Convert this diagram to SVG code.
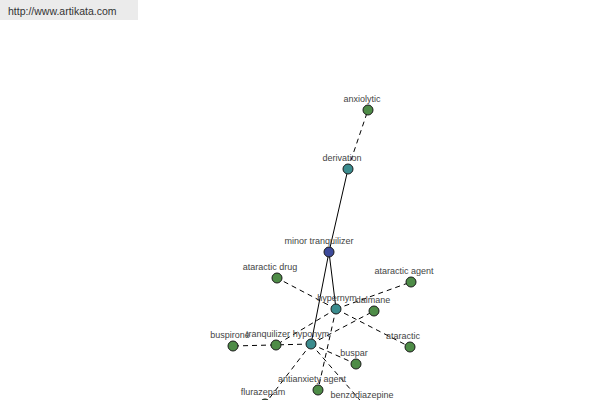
<svg xmlns="http://www.w3.org/2000/svg" width="600" height="400" viewBox="0 0 600 400">
<style>
.e{stroke:#000;stroke-width:1;fill:none}
.d{stroke-dasharray:5,4}
.n circle{stroke:#1a1a1a;stroke-width:1}
.w circle{fill:#4e8c47}
.r circle{fill:#3b8c8e}
.c circle{fill:#3d4a9a}
text{font-family:"Liberation Sans",Arial,sans-serif;font-size:9px;fill:#444;text-anchor:middle}
.url{font-size:10.5px;fill:#333;text-anchor:start}
</style>
<rect x="0" y="0" width="138" height="20" fill="#ebebeb"/>
<text class="url" x="8" y="15">http://www.artikata.com</text>
<g id="connectors">
<line class="e" x1="348" y1="169" x2="329" y2="252"/>
<line class="e" x1="329" y1="252" x2="336" y2="309"/>
<line class="e" x1="329" y1="252" x2="311" y2="344"/>
<line class="e d" x1="348" y1="169" x2="368" y2="110"/>
<line class="e d" x1="336" y1="309" x2="277" y2="278"/>
<line class="e d" x1="336" y1="309" x2="411" y2="282"/>
<line class="e d" x1="336" y1="309" x2="410" y2="347"/>
<line class="e d" x1="336" y1="309" x2="276" y2="345"/>
<line class="e d" x1="336" y1="309" x2="318" y2="390"/>
<line class="e d" x1="311" y1="344" x2="233" y2="346"/>
<line class="e d" x1="311" y1="344" x2="374" y2="311"/>
<line class="e d" x1="311" y1="344" x2="356" y2="364"/>
<line class="e d" x1="311" y1="344" x2="365" y2="406"/>
<line class="e d" x1="311" y1="344" x2="265" y2="404"/>
</g>
<g id="anxiolytic" class="n w"><circle cx="368" cy="110" r="5"/><text x="362" y="102">anxiolytic</text></g>
<g id="derivation" class="n r"><circle cx="348" cy="169" r="5"/><text x="342" y="161">derivation</text></g>
<g id="minor-tranquilizer" class="n c"><circle cx="329" cy="252" r="5"/><text x="319" y="244">minor tranquilizer</text></g>
<g id="ataractic-drug" class="n w"><circle cx="277" cy="278" r="5"/><text x="270" y="270">ataractic drug</text></g>
<g id="ataractic-agent" class="n w"><circle cx="411" cy="282" r="5"/><text x="404" y="274">ataractic agent</text></g>
<g id="hypernym" class="n r"><circle cx="336" cy="309" r="5"/><text x="337" y="301">hypernym</text></g>
<g id="dalmane" class="n w"><circle cx="374" cy="311" r="5"/><text x="373" y="303">dalmane</text></g>
<g id="buspirone" class="n w"><circle cx="233" cy="346" r="5"/><text x="230" y="338">buspirone</text></g>
<g id="tranquilizer" class="n w"><circle cx="276" cy="345" r="5"/><text x="268" y="337">tranquilizer</text></g>
<g id="hyponym" class="n r"><circle cx="311" cy="344" r="5"/><text x="311" y="337">hyponym</text></g>
<g id="ataractic" class="n w"><circle cx="410" cy="347" r="5"/><text x="403" y="339">ataractic</text></g>
<g id="buspar" class="n w"><circle cx="356" cy="364" r="5"/><text x="354" y="356">buspar</text></g>
<g id="antianxiety-agent" class="n w"><circle cx="318" cy="390" r="5"/><text x="312" y="382">antianxiety agent</text></g>
<g id="flurazepam" class="n w"><circle cx="265" cy="404" r="5"/><text x="263" y="395">flurazepam</text></g>
<g id="benzodiazepine" class="n w"><circle cx="365" cy="406" r="5"/><text x="362" y="398">benzodiazepine</text></g>
</svg>
